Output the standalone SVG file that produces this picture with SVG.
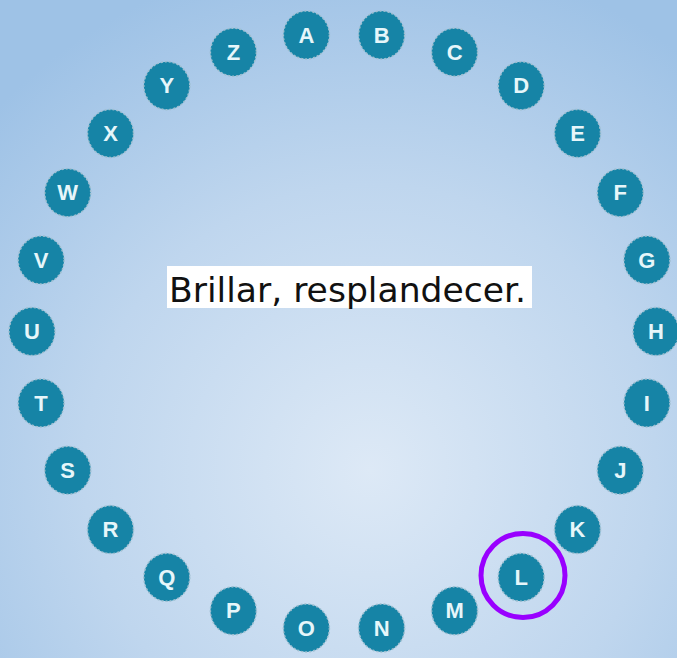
<svg xmlns="http://www.w3.org/2000/svg" width="677" height="658" viewBox="0 0 677 658">
<defs>
<radialGradient id="bg" cx="370" cy="470" r="520" gradientUnits="userSpaceOnUse">
<stop offset="0" stop-color="#dde9f6"/>
<stop offset="0.55" stop-color="#bfd6ee"/>
<stop offset="1" stop-color="#9ec2e6"/>
</radialGradient>
</defs>
<style>
.dot ellipse{fill:#1684a6;stroke:#9fbfd0;stroke-width:1.5;stroke-dasharray:2 2}
.dot text{font-family:"Liberation Sans",Arial,sans-serif;font-weight:bold;font-size:22px;fill:#e6f6fa;text-anchor:middle;dominant-baseline:central}
.ring{fill:none;stroke:#9900ff;stroke-width:5}
.caption{font-family:"DejaVu Sans",Verdana,sans-serif;font-size:34.6px;fill:#111}
</style>
<rect x="0" y="0" width="677" height="658" fill="url(#bg)"/>
<g id="A" class="dot"><ellipse cx="306.4" cy="35" rx="23" ry="24"/><text x="306.4" y="35">A</text></g>
<g id="B" class="dot"><ellipse cx="381.6" cy="35" rx="23" ry="24"/><text x="381.6" y="35">B</text></g>
<g id="C" class="dot"><ellipse cx="454.6" cy="52.2" rx="23" ry="24"/><text x="454.6" y="52.2">C</text></g>
<g id="D" class="dot"><ellipse cx="521.2" cy="85.7" rx="23" ry="24"/><text x="521.2" y="85.7">D</text></g>
<g id="E" class="dot"><ellipse cx="577.5" cy="133.4" rx="23" ry="24"/><text x="577.5" y="133.4">E</text></g>
<g id="F" class="dot"><ellipse cx="620.3" cy="192.7" rx="23" ry="24"/><text x="620.3" y="192.7">F</text></g>
<g id="G" class="dot"><ellipse cx="646.9" cy="260" rx="23" ry="24"/><text x="646.9" y="260">G</text></g>
<g id="H" class="dot"><ellipse cx="656" cy="331.5" rx="23" ry="24"/><text x="656" y="331.5">H</text></g>
<g id="I" class="dot"><ellipse cx="646.9" cy="403" rx="23" ry="24"/><text x="646.9" y="403">I</text></g>
<g id="J" class="dot"><ellipse cx="620.3" cy="470.3" rx="23" ry="24"/><text x="620.3" y="470.3">J</text></g>
<g id="K" class="dot"><ellipse cx="577.5" cy="529.6" rx="23" ry="24"/><text x="577.5" y="529.6">K</text></g>
<g id="L" class="dot"><ellipse cx="521.2" cy="577.3" rx="23" ry="24"/><text x="521.2" y="577.3">L</text></g>
<g id="M" class="dot"><ellipse cx="454.6" cy="610.8" rx="23" ry="24"/><text x="454.6" y="610.8">M</text></g>
<g id="N" class="dot"><ellipse cx="381.6" cy="628" rx="23" ry="24"/><text x="381.6" y="628">N</text></g>
<g id="O" class="dot"><ellipse cx="306.4" cy="628" rx="23" ry="24"/><text x="306.4" y="628">O</text></g>
<g id="P" class="dot"><ellipse cx="233.4" cy="610.8" rx="23" ry="24"/><text x="233.4" y="610.8">P</text></g>
<g id="Q" class="dot"><ellipse cx="166.8" cy="577.3" rx="23" ry="24"/><text x="166.8" y="577.3">Q</text></g>
<g id="R" class="dot"><ellipse cx="110.5" cy="529.6" rx="23" ry="24"/><text x="110.5" y="529.6">R</text></g>
<g id="S" class="dot"><ellipse cx="67.7" cy="470.3" rx="23" ry="24"/><text x="67.7" y="470.3">S</text></g>
<g id="T" class="dot"><ellipse cx="41.1" cy="403" rx="23" ry="24"/><text x="41.1" y="403">T</text></g>
<g id="U" class="dot"><ellipse cx="32" cy="331.5" rx="23" ry="24"/><text x="32" y="331.5">U</text></g>
<g id="V" class="dot"><ellipse cx="41.1" cy="260" rx="23" ry="24"/><text x="41.1" y="260">V</text></g>
<g id="W" class="dot"><ellipse cx="67.7" cy="192.7" rx="23" ry="24"/><text x="67.7" y="192.7">W</text></g>
<g id="X" class="dot"><ellipse cx="110.5" cy="133.4" rx="23" ry="24"/><text x="110.5" y="133.4">X</text></g>
<g id="Y" class="dot"><ellipse cx="166.8" cy="85.7" rx="23" ry="24"/><text x="166.8" y="85.7">Y</text></g>
<g id="Z" class="dot"><ellipse cx="233.4" cy="52.2" rx="23" ry="24"/><text x="233.4" y="52.2">Z</text></g>
<g id="highlight"><circle class="ring" cx="523" cy="575.5" r="42"/></g>
<g id="caption">
<rect x="167" y="266" width="365" height="42" fill="#ffffff"/>
<text class="caption" x="169" y="302">Brillar, resplandecer.</text>
</g>
<g id="connectors"/>
</svg>
